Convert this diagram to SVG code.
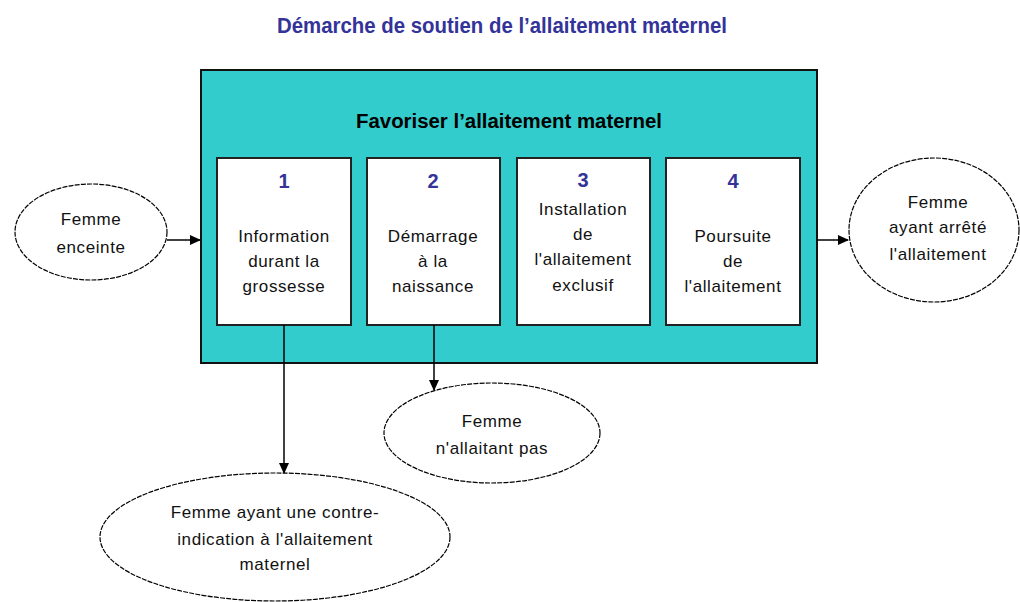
<svg xmlns="http://www.w3.org/2000/svg" width="1020" height="602" viewBox="0 0 1020 602">
<style>
.t{font-family:"Liberation Sans",Arial,sans-serif;font-size:17px;fill:#111;text-anchor:middle;letter-spacing:0.6px}
.num{font-family:"Liberation Sans",Arial,sans-serif;font-size:20px;font-weight:bold;fill:#333399;text-anchor:middle}
.ell{fill:#fff;stroke:#000;stroke-width:1.2;stroke-dasharray:5 1.2}
.box{fill:#fff;stroke:#222;stroke-width:2}
.con{stroke:#000;stroke-width:1.5;fill:none}
</style>
<defs>
<marker id="ah" markerWidth="11" markerHeight="11" refX="10" refY="5" orient="auto" markerUnits="userSpaceOnUse">
<path d="M0,0 L11,5 L0,10 Z" fill="#000"/>
</marker>
</defs>
<rect width="1020" height="602" fill="#fff"/>
<text x="502" y="33" font-family="Liberation Sans,Arial,sans-serif" font-size="22" font-weight="bold" fill="#333399" text-anchor="middle" textLength="450" lengthAdjust="spacingAndGlyphs">Démarche de soutien de l’allaitement maternel</text>
<g id="main">
<rect x="201" y="70" width="616" height="293" fill="#33CCCC" stroke="#111" stroke-width="2"/>
<text x="509" y="128" font-family="Liberation Sans,Arial,sans-serif" font-size="20" font-weight="bold" fill="#000" text-anchor="middle" textLength="306" lengthAdjust="spacingAndGlyphs">Favoriser l’allaitement maternel</text>
</g>
<g id="step1">
<rect class="box" x="217" y="158" width="134" height="167"/>
<text class="num" x="284" y="188">1</text>
<text class="t" x="284" y="242">Information</text>
<text class="t" x="284" y="267">durant la</text>
<text class="t" x="284" y="292">grossesse</text>
</g>
<g id="step2">
<rect class="box" x="367" y="158" width="133" height="167"/>
<text class="num" x="433" y="188">2</text>
<text class="t" x="433" y="242">Démarrage</text>
<text class="t" x="433" y="267">à la</text>
<text class="t" x="433" y="292">naissance</text>
</g>
<g id="step3">
<rect class="box" x="517" y="158" width="133" height="167"/>
<text class="num" x="583" y="187">3</text>
<text class="t" x="583" y="215">Installation</text>
<text class="t" x="583" y="240">de</text>
<text class="t" x="583" y="265">l'allaitement</text>
<text class="t" x="583" y="291">exclusif</text>
</g>
<g id="step4">
<rect class="box" x="666" y="158" width="134" height="167"/>
<text class="num" x="733" y="188">4</text>
<text class="t" x="733" y="242">Poursuite</text>
<text class="t" x="733" y="267">de</text>
<text class="t" x="733" y="292">l'allaitement</text>
</g>
<g id="connectors">
<line class="con" x1="167" y1="240" x2="200" y2="240" marker-end="url(#ah)"/>
<line class="con" x1="817" y1="240" x2="848" y2="240" marker-end="url(#ah)"/>
<line class="con" x1="284" y1="325" x2="284" y2="473" marker-end="url(#ah)"/>
<line class="con" x1="434" y1="325" x2="434" y2="390" marker-end="url(#ah)"/>
</g>
<g id="enceinte">
<ellipse class="ell" cx="91" cy="232" rx="76" ry="48"/>
<text class="t" x="91" y="225">Femme</text>
<text class="t" x="91" y="253">enceinte</text>
</g>
<g id="arrete">
<ellipse class="ell" cx="934" cy="230" rx="85" ry="72"/>
<text class="t" x="938" y="208">Femme</text>
<text class="t" x="938" y="233">ayant arrêté</text>
<text class="t" x="938" y="260">l'allaitement</text>
</g>
<g id="nallaitant">
<ellipse class="ell" cx="492" cy="433" rx="108" ry="50"/>
<text class="t" x="492" y="427">Femme</text>
<text class="t" x="492" y="454">n'allaitant pas</text>
</g>
<g id="contre">
<ellipse class="ell" cx="275" cy="537" rx="175" ry="64"/>
<text class="t" x="275" y="518">Femme ayant une contre-</text>
<text class="t" x="275" y="545">indication à l'allaitement</text>
<text class="t" x="275" y="570">maternel</text>
</g>
</svg>
